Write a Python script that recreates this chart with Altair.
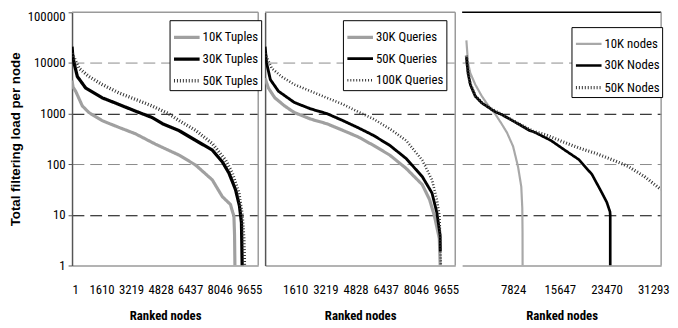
import altair as alt
import pandas as pd

# ---------------- data ----------------
# Panel 1: number of tuples
tup_names = ["10K Tuples", "30K Tuples", "50K Tuples"]
tup10_x = [1, 60, 200, 560, 920, 1645, 2550, 3455, 4540, 5842, 6742, 7648, 8190, 8640, 8733, 8825, 8860, 8880]
tup10_y = [4500, 3300, 2760, 1420, 1050, 725, 535, 400, 250, 151, 96, 49, 23, 16, 12, 9.5, 4, 1]
tup30_x = [1, 40, 110, 290, 745, 1645, 2550, 3455, 4355, 4936, 5842, 6742, 7648, 8190, 8554, 8912, 9129, 9237, 9275]
tup30_y = [21000, 14000, 10000, 5400, 3200, 2050, 1520, 1120, 840, 630, 460, 295, 190, 112, 67, 31.6, 15, 7, 1]
tup50_x = [1, 380, 920, 1645, 2550, 3455, 4355, 5260, 5842, 6742, 7648, 8370, 8733, 9096, 9275, 9367, 9400]
tup50_y = [15500, 7900, 5400, 3750, 2570, 1910, 1420, 1000, 725, 465, 256, 120, 67, 27, 10, 3.4, 1]

# Panel 2: number of queries
qry_names = ["30K Queries", "50K Queries", "100K Queries"]
qry30_x = [1, 175, 520, 1040, 1560, 2430, 3300, 4160, 4980, 5790, 6660, 7525, 8390, 8780, 9040, 9300, 9345]
qry30_y = [5000, 3200, 2050, 1420, 1050, 780, 630, 465, 345, 235, 151, 83, 39.5, 20, 9.5, 3.4, 1]
qry50_x = [1, 80, 280, 710, 1560, 2430, 3300, 4160, 4925, 5790, 6660, 7525, 8390, 8910, 9170, 9345, 9355]
qry50_y = [21000, 10000, 4700, 2770, 1660, 1240, 1000, 725, 535, 370, 235, 130, 57, 27, 11, 3.9, 1.9]
qry100_x = [1, 350, 870, 1560, 2430, 3300, 4160, 4980, 5790, 6660, 7525, 8390, 8910, 9170, 9310, 9345, 9380]
qry100_y = [15500, 7900, 5400, 3750, 2770, 2050, 1520, 1080, 780, 500, 295, 120, 49, 20, 9.5, 3.4, 1]

# Panel 3: number of nodes
nod_names = ["10K nodes", "30K Nodes", "50K Nodes"]
nod10_x = [1, 280, 660, 1490, 2590, 3700, 4790, 5890, 6800, 7820, 8650, 9190, 9360, 9400, 9410]
nod10_y = [28000, 10000, 6300, 3750, 2200, 1420, 1000, 630, 420, 225, 89, 36, 13.5, 4.6, 1]
nod30_x = [1, 280, 660, 1490, 2590, 4240, 5065, 5890, 8650, 10560, 11400, 14140, 16070, 18810, 21020, 22670, 23500, 24040, 24080, 24080]
nod30_y = [13000, 6300, 3750, 2200, 1620, 1200, 1050, 960, 630, 465, 430, 295, 205, 124, 63, 27.5, 17.8, 11.5, 10, 1]
nod50_x = [1, 280, 660, 1490, 2590, 4240, 5890, 8650, 11120, 13300, 16070, 18810, 21570, 24320, 27060, 29820, 32570]
nod50_y = [14000, 6500, 3800, 2250, 1650, 1220, 970, 640, 450, 380, 280, 210, 165, 124, 91, 57, 31.6]

tick_small = [1, 1610, 3219, 4828, 6437, 8046, 9655]
tick_small_2 = [1610, 3219, 4828, 6437, 8046, 9655]
tick_large = [7824, 15647, 23470, 31293]
y_ticks = [1, 10, 100, 1000, 10000, 100000]

# ---------------- styling ----------------
NARROW = "Roboto Condensed, Liberation Sans"
REGULAR = "Liberation Sans, Arial"
FS = 13
H = 257
GRID_COLOR = {"expr": "(datum.value == 10000 || datum.value == 100) ? '#8a8a8a' : ((datum.value == 1000 || datum.value == 10) ? '#000000' : 'transparent')"}
TOP_LABEL_OFFSET = {"condition": {"test": "datum.value == 100000", "value": 4}, "value": 0}


def make_df(names, xs_list, ys_list):
    rows = []
    for name, xs, ys in zip(names, xs_list, ys_list):
        for i, (x, y) in enumerate(zip(xs, ys)):
            rows.append({"series": name, "node": x, "load": y, "ord": i})
    return pd.DataFrame(rows)


def panel(df, names, colors, dashes, widths, x_domain, x_ticks, width,
          first, left_border, top_color, lx, ly, row_pad):
    leg = alt.Legend(title=None, orient="none", legendX=lx, legendY=ly,
                     strokeColor="#000000", fillColor="#ffffff", padding=2.5,
                     symbolType="stroke", symbolSize=676, labelFont=NARROW,
                     labelFontSize=FS, labelColor="#000000", labelOffset=1,
                     rowPadding=row_pad)
    if first:
        yaxis = alt.Axis(values=y_ticks, format="d", title="Total filtering load per node",
                         titleFont=REGULAR, titleFontSize=13.5, titleFontWeight="bold",
                         titleColor="#000000", titlePadding=5,
                         labelFont=NARROW, labelFontSize=FS, labelColor="#000000",
                         labelPadding=3, labelOffset=TOP_LABEL_OFFSET,
                         tickSize=4, tickColor="#555555",
                         domainColor="#555555", domainWidth=1.5,
                         grid=True, gridColor=GRID_COLOR, gridDash=[12, 6])
    else:
        yaxis = alt.Axis(values=[10, 100, 1000, 10000], title=None, labels=False, ticks=False,
                         domain=left_border, domainColor="#555555", domainWidth=1.5,
                         grid=True, gridColor=GRID_COLOR, gridDash=[12, 6])
    xaxis = alt.Axis(values=x_ticks, format="d", title="Ranked nodes", ticks=False,
                     grid=False, labelFont=NARROW, labelFontSize=FS, labelColor="#000000",
                     labelPadding=18, titleFont=NARROW, titleFontSize=13,
                     titleFontWeight="bold", titleColor="#000000", titlePadding=14,
                     domainColor="#9a9a9a", domainWidth=1.5)
    lines = alt.Chart(df).mark_line(clip=True).encode(
        x=alt.X("node:Q", scale=alt.Scale(domain=x_domain, nice=False, zero=False), axis=xaxis),
        y=alt.Y("load:Q", scale=alt.Scale(type="log", domain=[1, 100000], nice=False), axis=yaxis),
        color=alt.Color("series:N", scale=alt.Scale(domain=names, range=colors), legend=leg),
        strokeDash=alt.StrokeDash("series:N", scale=alt.Scale(domain=names, range=dashes), legend=leg),
        strokeWidth=alt.StrokeWidth("series:N", scale=alt.Scale(domain=names, range=widths), legend=leg),
        order="ord:Q",
    )
    one = pd.DataFrame({"k": [0]})
    top = alt.Chart(one).mark_rule(color=top_color, strokeWidth=1.5).encode(
        x=alt.value(0), x2=alt.value(width), y=alt.value(0))
    right = alt.Chart(one).mark_rule(color="#9a9a9a", strokeWidth=1.5).encode(
        x=alt.value(width), y=alt.value(0), y2=alt.value(H))
    return alt.layer(lines, top, right).properties(width=width, height=H)


solid = [1, 0]
dotted = [1, 2]

df1 = make_df(tup_names, [tup10_x, tup30_x, tup50_x], [tup10_y, tup30_y, tup50_y])
df2 = make_df(qry_names, [qry30_x, qry50_x, qry100_x], [qry30_y, qry50_y, qry100_y])
df3 = make_df(nod_names, [nod10_x, nod30_x, nod50_x], [nod10_y, nod30_y, nod50_y])

DOT = "#333333"
p1 = panel(df1, tup_names, ["#a0a0a0", "#000000", DOT], [solid, solid, dotted], [3.2, 3.4, 0.9],
           [1, 10150], tick_small, 189, True, True, "#9a9a9a", 99, 8, -3.5)
p2 = panel(df2, qry_names, ["#a0a0a0", "#000000", DOT], [solid, solid, dotted], [3.2, 2.6, 0.9],
           [1, 10150], tick_small_2, 193, False, True, "#9a9a9a", 79, 8, -0.5)
p3 = panel(df3, nod_names, ["#a8a8a8", "#000000", DOT], [solid, solid, dotted], [2.2, 3.2, 0.9],
           [-709, 32600], tick_large, 202, False, False, "#000000", 111, 15, -3.5)

chart = alt.hconcat(p1, p2, p3, spacing=7, bounds="flush").resolve_scale(
    color="independent", strokeDash="independent", strokeWidth="independent", x="independent"
).resolve_legend(
    color="independent", strokeDash="independent", strokeWidth="independent"
).properties(
    padding={"left": 0, "top": 0, "right": 0, "bottom": 0}
).configure_view(stroke=None)

chart.save("out.html", embed_options={"renderer": "svg", "actions": False})
